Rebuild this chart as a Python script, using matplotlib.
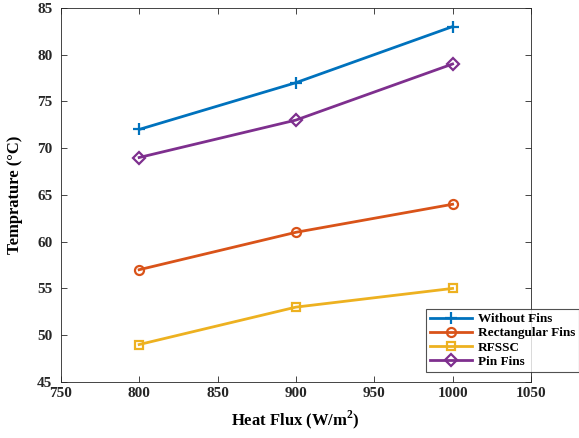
import matplotlib
matplotlib.use("Agg")
import matplotlib.pyplot as plt

# data
heat_flux = [800, 900, 1000]
without_fins = [72, 77, 83]
rect_fins = [57, 61, 64]
rfssc = [49, 53, 55]
pin_fins = [69, 73, 79]

series = [
    ("Without Fins", without_fins, "#0072BD", "+", 8),
    ("Rectangular Fins", rect_fins, "#D95319", "o", 6.5),
    ("RFSSC", rfssc, "#EDB120", "s", 6),
    ("Pin Fins", pin_fins, "#7E2F8E", "D", 6),
]

plt.rcParams["font.family"] = ["Liberation Serif", "DejaVu Serif"]
plt.rcParams["font.weight"] = "bold"
plt.rcParams["mathtext.fontset"] = "custom"
plt.rcParams["mathtext.bf"] = "Liberation Serif:bold"

fig = plt.figure(figsize=(5.79, 4.38), dpi=100)
ax = fig.add_axes([0.105, 0.128, 0.812, 0.854])

for label, vals, color, marker, ms in series:
    ax.plot(heat_flux, vals, color=color, marker=marker, lw=2,
            markersize=ms, mew=1.6, markerfacecolor="none", label=label)

ax.set_xlim(750, 1050)
ax.set_ylim(45, 85)
ax.set_xticks(range(750, 1051, 50))
ax.set_yticks(range(45, 86, 5))
ax.tick_params(direction="in", top=True, right=True, length=4,
               labelsize=11, colors="#262626", width=0.6)
ax.tick_params(axis="y", pad=6)
for lbl in ax.get_xticklabels() + ax.get_yticklabels():
    lbl.set_fontweight("bold")
for sp in ax.spines.values():
    sp.set_color("#262626")
    sp.set_linewidth(0.6)

ax.set_xlabel("Heat Flux (W/m$^\\mathbf{2}$)", fontsize=12, fontweight="bold", labelpad=6)
ax.set_ylabel("Temprature (°C)", fontsize=12, fontweight="bold", labelpad=10)

leg = ax.legend(loc="lower left", bbox_to_anchor=(0.736, 0.151),
                bbox_transform=fig.transFigure, fontsize=9.5, frameon=True,
                fancybox=False, edgecolor="#262626", borderpad=0.3,
                labelspacing=0.15, handlelength=3.2, handletextpad=0.4,
                borderaxespad=0)
leg.get_frame().set_linewidth(0.8)
for t in leg.get_texts():
    t.set_fontweight("bold")

fig.savefig("out.png", dpi=100)
